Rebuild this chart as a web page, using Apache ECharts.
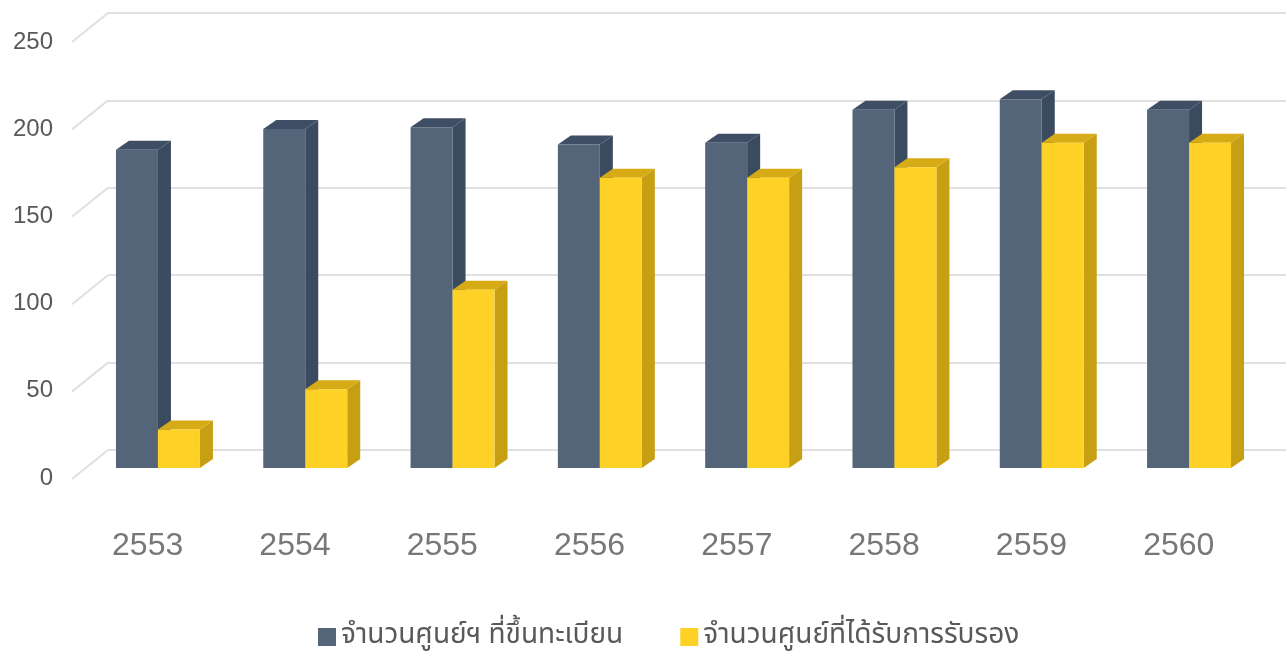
<!DOCTYPE html>
<html>
<head>
<meta charset="utf-8">
<script src="https://cdn.jsdelivr.net/npm/echarts@6/dist/echarts.min.js"></script>
<style>
  html, body { margin: 0; padding: 0; background: #fff; }
  #chart { width: 1286px; height: 653px; }
</style>
</head>
<body>
<div id="chart"></div>
<script>
const categories = ['2553', '2554', '2555', '2556', '2557', '2558', '2559', '2560']
const registered = [182, 194, 195, 185, 186, 205, 211, 205]
const certified = [22, 45, 102, 166, 166, 172, 186, 186]
const yTicks = [0, 50, 100, 150, 200, 250]
const seriesNames = ['จำนวนศูนย์ฯ ที่ขึ้นทะเบียน', 'จำนวนศูนย์ที่ได้รับการรับรอง']

// 3D depth of the bars
const DX = 13
const DY = 9

const palette = {
  dark: { front: '#546479', side: '#3a4a5f', top: '#3f4e64' },
  yellow: { front: '#fdd126', side: '#c69f13', top: '#d7ab15' },
}

const makeBar3d = (pal, side) => (params, api) => {
  const idx = api.value(0)
  const top = api.coord([idx, api.value(1)])
  const base = api.coord([idx, 0])
  const w = api.size([1, 0])[0] * 0.285
  const x0 = side === 'left' ? top[0] - w : top[0]
  const x1 = x0 + w
  return {
    type: 'group',
    children: [
      {
        type: 'polygon',
        shape: { points: [[x1, top[1]], [x1 + DX, top[1] - DY], [x1 + DX, base[1] - DY], [x1, base[1]]] },
        style: { fill: pal.side },
      },
      {
        type: 'polygon',
        shape: { points: [[x0, top[1]], [x1, top[1]], [x1 + DX, top[1] - DY], [x0 + DX, top[1] - DY]] },
        style: { fill: pal.top },
      },
      {
        type: 'rect',
        shape: { x: x0, y: top[1], width: w, height: base[1] - top[1] },
        style: { fill: pal.front },
      },
    ],
  }
}

const chart = echarts.init(document.getElementById('chart'))

const option = {
  backgroundColor: '#fff',
  animation: false,
  legend: {
    data: seriesNames,
    left: 313,
    top: 618,
    icon: 'rect',
    itemWidth: 18,
    itemHeight: 18,
    itemGap: 57,
    textStyle: {
      fontSize: 28,
      color: '#595959',
      fontFamily: 'Noto Sans Thai, Loma, Garuda, Noto Sans, sans-serif',
    },
  },
  grid: [
    // back wall
    { left: 108, right: 0, top: 13, bottom: 203 },
    // front plane (labels)
    { left: 74, right: 33.6, top: 42, bottom: 175 },
    // bars
    { left: 84.3, right: 23.3, top: 31, bottom: 185 },
  ],
  xAxis: [
    { gridIndex: 0, type: 'value', min: 0, max: 1, show: false },
    {
      gridIndex: 1,
      type: 'category',
      data: categories,
      axisLine: { show: false },
      axisTick: { show: false },
      axisLabel: {
        margin: 52,
        fontSize: 32,
        color: '#777777',
        fontFamily: 'Liberation Sans, Arial, sans-serif',
      },
    },
    { gridIndex: 2, type: 'category', data: categories, show: false },
  ],
  yAxis: [
    {
      gridIndex: 0,
      type: 'value',
      min: 0,
      max: 250,
      interval: 50,
      axisLine: { show: false },
      axisTick: { show: false },
      axisLabel: { show: false },
      splitLine: { lineStyle: { color: '#e0e0e0', width: 2 } },
    },
    {
      gridIndex: 1,
      type: 'value',
      min: 0,
      max: 250,
      interval: 50,
      axisLine: { show: false },
      axisTick: { show: false },
      splitLine: { show: false },
      axisLabel: {
        margin: 21,
        fontSize: 24,
        color: '#595959',
        fontFamily: 'Liberation Sans, Arial, sans-serif',
      },
    },
    { gridIndex: 2, type: 'value', min: 0, max: 250, show: false },
  ],
  series: [
    {
      type: 'custom',
      xAxisIndex: 0,
      yAxisIndex: 0,
      silent: true,
      data: yTicks.map((v) => [0, v]),
      renderItem: (params, api) => {
        const p = api.coord([0, api.value(1)])
        return {
          type: 'line',
          shape: { x1: p[0] - 36, y1: p[1] + 29, x2: p[0], y2: p[1] },
          style: { stroke: '#e0e0e0', lineWidth: 2 },
        }
      },
    },
    {
      name: seriesNames[0],
      type: 'custom',
      xAxisIndex: 2,
      yAxisIndex: 2,
      itemStyle: { color: palette.dark.front },
      data: registered.map((v, i) => [i, v]),
      renderItem: makeBar3d(palette.dark, 'left'),
    },
    {
      name: seriesNames[1],
      type: 'custom',
      xAxisIndex: 2,
      yAxisIndex: 2,
      itemStyle: { color: palette.yellow.front },
      data: certified.map((v, i) => [i, v]),
      renderItem: makeBar3d(palette.yellow, 'right'),
    },
  ],
}

chart.setOption(option)
</script>
</body>
</html>
